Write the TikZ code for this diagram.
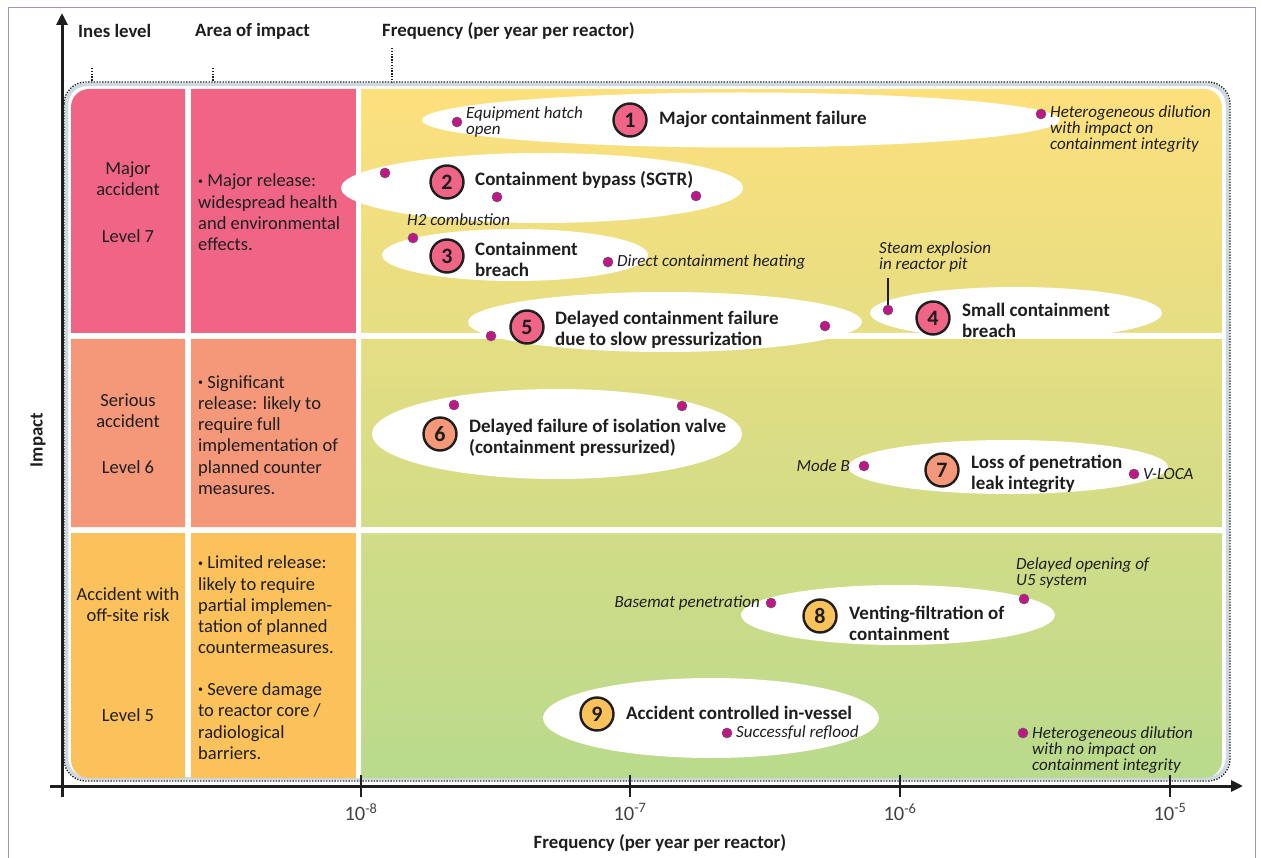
\documentclass[tikz,border=0pt]{standalone}
\usepackage{fontspec}
\setmainfont{Carlito}
\usetikzlibrary{positioning,shapes.geometric,arrows.meta}
\definecolor{ink}{RGB}{30,30,30}
\definecolor{rowA}{RGB}{240,101,133}
\definecolor{rowB}{RGB}{245,151,121}
\definecolor{rowC}{RGB}{251,193,90}
\definecolor{freqTop}{RGB}{253,224,125}
\definecolor{freqBot}{RGB}{185,218,140}
\definecolor{dotcol}{RGB}{192,22,138}
\definecolor{framecol}{RGB}{165,145,200}
\definecolor{bandcol}{RGB}{205,216,224}
\newcommand\blt{\raisebox{.3ex}{\fontsize{10}{10}\selectfont\textbullet}~}

\begin{document}
\begin{tikzpicture}[x=1pt,y=-1pt,
  cell/.style={font=\fontsize{18.5}{21.3}\selectfont,text=ink,align=center,inner sep=0},
  area/.style={font=\fontsize{18.5}{21.3}\selectfont,text=ink,align=left,anchor=west,inner sep=0},
  head/.style={font=\bfseries\fontsize{18.8}{20}\selectfont,text=ink,inner sep=0},
  event/.style={ellipse,fill=white,inner sep=0},
  num/.style={circle,draw=ink,line width=2.4pt,minimum size=33pt,inner sep=0,
    font=\bfseries\fontsize{22}{22}\selectfont,text=ink},
  evtitle/.style={font=\bfseries\fontsize{19}{21}\selectfont,text=ink,align=left,inner sep=0,anchor=west},
  dot/.style={circle,fill=dotcol,draw=ink!70,line width=0.6pt,minimum size=10pt,inner sep=0},
  note/.style={font=\itshape\fontsize{17}{16}\selectfont,text=ink,align=left,inner sep=0},
  axis/.style={ink,line width=3pt},
  leader/.style={ink,line width=1.3pt,dash pattern=on 1.4pt off 1.4pt}]
\useasboundingbox (0,0) rectangle (1261,858);

% page frame
\draw[framecol,line width=1.5pt] (8.5,880) -- (8.5,7.5) -- (1255.5,7.5) -- (1255.5,880);

% headers
\node[head,anchor=west] (ines) at (78,31) {Ines level};
\node[head,anchor=west] (impact) at (195,31) {Area of impact};
\node[head,anchor=west] (freq) at (382,31) {Frequency (per year per reactor)};
\coordinate (l1) at (92,68);
\coordinate (l2) at (213,68);
\coordinate (l3) at (392,48);
\foreach \c in {l1,l2,l3}
  \draw[leader] (\c) -- (\c |- 0,82);

% dotted border
\draw[bandcol,line width=3.5pt,rounded corners=20pt] (66.5,84.5) rectangle (1227.5,778.5);
\draw[leader,rounded corners=22pt] (64,82) rectangle (1230,781);

% cells
\begin{scope}
\clip[rounded corners=18pt] (71,89) rectangle (1222,778);
\shade[top color=freqTop,bottom color=freqBot] (361,89) rectangle (1222,778);
\fill[rowA] (71,89) rectangle (185,333) (191,89) rectangle (356,333);
\fill[rowB] (71,339) rectangle (185,527) (191,339) rectangle (356,527);
\fill[rowC] (71,533) rectangle (185,778) (191,533) rectangle (356,778);
\fill[white] (356,89) rectangle (361,778) (361,333) rectangle (1222,339)
  (361,527) rectangle (1222,533);
\end{scope}

% level column
\node[cell] (lvA) at (128,178.5) {Major\\accident};
\node[cell] (lvAn) at (128,236) {Level 7};
\node[cell] (lvB) at (128,410.5) {Serious\\accident};
\node[cell] (lvBn) at (128,467) {Level 6};
\node[cell] (lvC) at (128,604.5) {Accident with\\off-site risk};
\node[cell] (lvCn) at (128,715) {Level 5};

% area column
\node[area] (arA) at (198,212.5) {\blt Major release:\\widespread health\\and environmental\\effects.};
\node[area] (arB) at (198,435) {\blt Significant\\release: likely to\\require full\\implementation of\\planned counter\\measures.};
\node[area] (arC) at (198,605) {\blt Limited release:\\likely to require\\partial implemen-\\tation of planned\\countermeasures.};
\node[area] (arD) at (198,721) {\blt Severe damage\\to reactor core /\\radiological\\barriers.};

% axes
\coordinate (ybot) at (62,797);
\coordinate (ytop) at (62,13);
\coordinate (xleft) at (50,786);
\coordinate (xright) at (1243,786);
\draw[axis,-{Triangle[length=12pt,width=11pt]}] (ybot) -- (ytop);
\draw[axis,-{Triangle[length=12pt,width=11pt]}] (xleft) -- (xright);
\foreach \x/\e in {361/8,630/7,900/6,1170/5}{
  \draw[ink,line width=2pt] (\x,775) -- (\x,797);
  \node[font=\fontsize{20.5}{22}\selectfont,text=ink!85] (tick\e) at (\x,812) {10\textsuperscript{-\e}};
}
\node[head] (xlab) at (660,843) {Frequency (per year per reactor)};
\node[head,rotate=90] (ylab) at (38,440) {Impact};

% events
\node[event,minimum width=638pt,minimum height=55pt] (e1) at (741,120) {};
\node[event,minimum width=402pt,minimum height=70pt] (e2) at (542,188) {};
\node[event,minimum width=266pt,minimum height=52pt] (e3) at (515,255) {};
\node[event,minimum width=292pt,minimum height=52pt] (e4) at (1016,313) {};
\node[event,minimum width=394pt,minimum height=60pt] (e5) at (665,322) {};
\node[event,minimum width=370pt,minimum height=90pt] (e6) at (557,434) {};
\node[event,minimum width=320pt,minimum height=54pt] (e7) at (1008,467) {};
\node[event,minimum width=314pt,minimum height=60pt] (e8) at (898,615) {};
\node[event,minimum width=336pt,minimum height=80pt] (e9) at (711,718) {};

\node[num,fill=rowA] (n1) at (630,120) {1};
\node[num,fill=rowA] (n2) at (447,182) {2};
\node[num,fill=rowA] (n3) at (447,256) {3};
\node[num,fill=rowA] (n4) at (933,318) {4};
\node[num,fill=rowA] (n5) at (527,327) {5};
\node[num,fill=rowB] (n6) at (440,434) {6};
\node[num,fill=rowB] (n7) at (942,470) {7};
\node[num,fill=rowC] (n8) at (820,616) {8};
\node[num,fill=rowC] (n9) at (597,714) {9};

\node[evtitle] (t1) at (659,119) {Major containment failure};
\node[evtitle] (t2) at (475,180) {Containment bypass (SGTR)};
\node[evtitle] (t3) at (475,259) {Containment\\breach};
\node[evtitle] (t4) at (962,320) {Small containment\\breach};
\node[evtitle] (t5) at (555,330) {Delayed containment failure\\due to slow pressurization};
\node[evtitle] (t6) at (469,438) {Delayed failure of isolation valve\\(containment pressurized)};
\node[evtitle] (t7) at (971,474) {Loss of penetration\\leak integrity};
\node[evtitle] (t8) at (849,623) {Venting-filtration of\\containment};
\node[evtitle] (t9) at (626,713) {Accident controlled in-vessel};

% scenarios
\node[dot] (d1a) at (457,122) {};
\node[dot] (d1b) at (1041,114) {};
\node[dot] (d2a) at (385,173) {};
\node[dot] (d2b) at (497,197) {};
\node[dot] (d2c) at (696,196) {};
\node[dot] (d3a) at (413,238) {};
\node[dot] (d3b) at (608,262) {};
\node[dot] (d4a) at (888,310) {};
\node[dot] (d5a) at (491,336) {};
\node[dot] (d5b) at (825,326) {};
\node[dot] (d6a) at (454,405) {};
\node[dot] (d6b) at (682,406) {};
\node[dot] (d7a) at (864,466) {};
\node[dot] (d7b) at (1134,474) {};
\node[dot] (d8a) at (771,603) {};
\node[dot] (d8b) at (1024,599) {};
\node[dot] (d9a) at (727,733) {};
\node[dot] (d9b) at (1023,733) {};

\node[note,anchor=west] (s1a) at (466,121.5) {Equipment hatch\\open};
\node[note,anchor=west] (s1b) at (1050,129) {Heterogeneous dilution\\with impact on\\containment integrity};
\node[note,anchor=west] (s3a) at (407,220) {H2 combustion};
\node[note,anchor=west] (s3b) at (617,262) {Direct containment heating};
\node[note,anchor=west] (s4a) at (879,257) {Steam explosion\\in reactor pit};
\node[note,anchor=east] (s7a) at (850,466) {Mode B};
\node[note,anchor=west] (s7b) at (1143,474) {V-LOCA};
\node[note,anchor=east] (s8a) at (760,603) {Basemat penetration};
\node[note,anchor=west] (s8b) at (1016,573) {Delayed opening of\\U5 system};
\node[note,anchor=west] (s9a) at (736,733) {Successful reflood};
\node[note,anchor=west] (s9b) at (1032,750) {Heterogeneous dilution\\with no impact on\\containment integrity};

\draw[ink,line width=1.3pt] (d4a) -- (d4a |- 0,278);
\end{tikzpicture}
\end{document}
